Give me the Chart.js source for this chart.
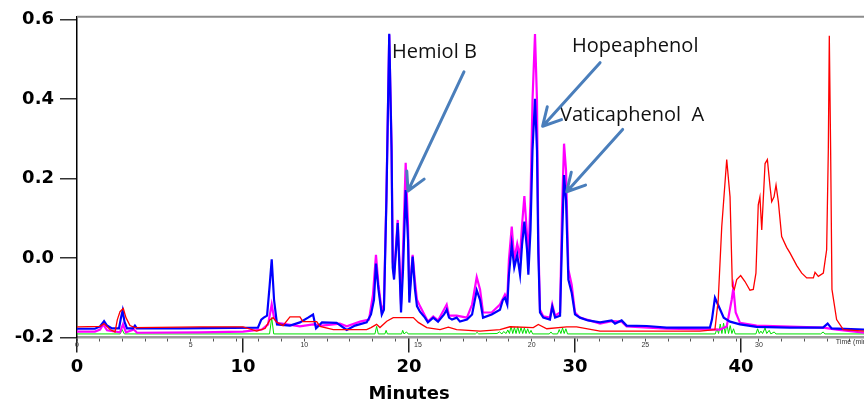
<!DOCTYPE html>
<html>
<head>
<meta charset="utf-8">
<script src="https://cdn.jsdelivr.net/npm/chart.js@4.4.0/dist/chart.umd.min.js"></script>
<style>
  html, body { margin: 0; padding: 0; background: #fff; }
  #wrap { width: 864px; height: 403px; }
</style>
</head>
<body>
<div id="wrap"><canvas id="chromChart"></canvas></div>
<script>
// ================= DATA =================
// retention time (Minutes) and absorbance (AU)
const redTime = [0, 1.39, 1.63, 1.99, 2.29, 2.43, 2.59, 2.79, 2.95, 3.19, 3.49, 7.41, 10, 10.83, 11.33, 11.63, 11.81, 12.05, 12.41, 12.83,
  13.43, 13.61, 14.44, 14.64, 15.44, 17.45, 17.71, 18.05, 18.25, 18.66, 19.05, 20.26, 20.56, 21.07, 21.87, 22.37, 22.87, 24.28, 25.48, 26.08,
  27.49, 27.79, 28.3, 29.5, 30.1, 31.51, 37.53, 38.43, 38.63, 38.84, 39.14, 39.34, 39.48, 39.6, 39.74, 39.98, 40.24, 40.54, 40.74, 40.9,
  41.04, 41.14, 41.25, 41.34, 41.45, 41.59, 41.75, 41.85, 41.99, 42.11, 42.25, 42.45, 42.75, 42.95, 43.36, 43.66, 43.96, 44.36, 44.46, 44.66,
  44.96, 45.16, 45.26, 45.32, 45.4, 45.48, 45.76, 46.16, 47.41];
const redAbs = [-0.173, -0.172, -0.165, -0.180, -0.186, -0.155, -0.135, -0.127, -0.150, -0.170, -0.175, -0.173, -0.173, -0.184, -0.177, -0.155, -0.150, -0.162, -0.170, -0.148,
  -0.148, -0.160, -0.160, -0.172, -0.180, -0.180, -0.175, -0.167, -0.175, -0.159, -0.150, -0.150, -0.162, -0.175, -0.180, -0.174, -0.180, -0.184, -0.180, -0.173,
  -0.175, -0.167, -0.178, -0.173, -0.173, -0.184, -0.184, -0.180, -0.105, 0.079, 0.248, 0.154, -0.071, -0.079, -0.054, -0.044, -0.059, -0.081, -0.079, -0.038,
  0.134, 0.154, 0.071, 0.146, 0.238, 0.248, 0.180, 0.142, 0.154, 0.184, 0.142, 0.054, 0.027, 0.013, -0.019, -0.038, -0.050, -0.050, -0.036, -0.046,
  -0.038, 0.021, 0.271, 0.560, 0.271, -0.079, -0.155, -0.180, -0.184];

const magentaTime = [0, 1.08, 1.39, 1.58, 1.81, 2.59, 2.77, 2.95, 3.43, 3.61, 7.41, 10, 11.14, 11.51, 11.73, 11.87, 12.05, 13.43, 14.22, 14.76,
  15.84, 16.25, 17.05, 17.59, 17.83, 18.01, 18.16, 18.36, 18.49, 18.64, 18.81, 18.95, 19.02, 19.1, 19.32, 19.43, 19.52, 19.64, 19.8, 19.94,
  20.02, 20.22, 20.36, 20.48, 20.66, 20.96, 21.14, 21.46, 21.75, 22.27, 22.41, 22.87, 23.49, 23.8, 24.08, 24.28, 24.46, 24.98, 25.48, 25.78,
  25.92, 26.02, 26.19, 26.34, 26.52, 26.69, 26.81, 26.95, 27.11, 27.19, 27.32, 27.44, 27.59, 27.71, 27.79, 27.89, 28.09, 28.49, 28.63, 28.8,
  29.1, 29.22, 29.34, 29.46, 29.6, 29.8, 30, 30.3, 31.51, 32.21, 32.81, 33.11, 35.52, 38.73, 39.14, 39.44, 39.54, 39.68, 39.94, 40.94,
  44.94, 45.78, 47.41];
const magentaAbs = [-0.185, -0.185, -0.180, -0.167, -0.182, -0.187, -0.167, -0.187, -0.180, -0.188, -0.187, -0.185, -0.180, -0.167, -0.117, -0.150, -0.163, -0.172, -0.167, -0.170,
  -0.165, -0.172, -0.160, -0.155, -0.092, 0.008, -0.067, -0.135, -0.117, 0.159, 0.562, 0.284, -0.009, -0.042, 0.096, -0.017, -0.117, 0.021, 0.240, 0.083,
  -0.092, 0.008, -0.059, -0.105, -0.121, -0.145, -0.160, -0.147, -0.157, -0.117, -0.145, -0.145, -0.150, -0.117, -0.048, -0.079, -0.137, -0.137, -0.117, -0.092,
  -0.105, -0.004, 0.079, -0.004, 0.036, 0.003, 0.083, 0.156, 0.058, 0.000, 0.146, 0.397, 0.564, 0.397, 0.046, -0.130, -0.147, -0.150, -0.117, -0.145,
  -0.137, 0.121, 0.288, 0.221, -0.029, -0.067, -0.137, -0.150, -0.165, -0.159, -0.160, -0.172, -0.178, -0.180, -0.172, -0.105, -0.075, -0.137, -0.163, -0.170,
  -0.175, -0.180, -0.188];

const blueTime = [0, 1.08, 1.39, 1.63, 1.81, 2.11, 2.53, 2.65, 2.75, 2.86, 3.01, 3.37, 3.49, 3.61, 6.2, 10.9, 11.1, 11.25, 11.45, 11.6,
  11.73, 11.87, 12.05, 12.83, 13.43, 13.92, 14.22, 14.4, 14.76, 15.64, 16.25, 16.75, 17.45, 17.71, 17.89, 18.01, 18.16, 18.36, 18.49, 18.64,
  18.81, 18.95, 19.02, 19.1, 19.22, 19.32, 19.43, 19.52, 19.64, 19.8, 19.94, 20.02, 20.12, 20.22, 20.36, 20.48, 20.66, 20.96, 21.14, 21.46,
  21.75, 22.11, 22.27, 22.41, 22.59, 22.87, 23.07, 23.49, 23.8, 24.08, 24.28, 24.46, 24.98, 25.48, 25.66, 25.78, 25.92, 26.02, 26.19, 26.34,
  26.52, 26.69, 26.81, 26.95, 27.11, 27.19, 27.32, 27.44, 27.59, 27.71, 27.79, 27.89, 28.09, 28.49, 28.63, 28.8, 29.1, 29.22, 29.34, 29.46,
  29.6, 29.8, 30, 30.3, 30.78, 31.51, 32.21, 32.41, 32.81, 33.11, 34.32, 35.52, 38.13, 38.25, 38.43, 38.61, 38.75, 38.96, 39.34, 39.94,
  40.94, 42.95, 44.94, 45.22, 45.46, 47.41];
const blueAbs = [-0.178, -0.178, -0.172, -0.159, -0.170, -0.177, -0.177, -0.150, -0.132, -0.160, -0.177, -0.177, -0.170, -0.177, -0.177, -0.175, -0.155, -0.150, -0.145, -0.072,
  -0.003, -0.105, -0.167, -0.170, -0.162, -0.150, -0.142, -0.177, -0.162, -0.163, -0.181, -0.170, -0.162, -0.142, -0.105, -0.014, -0.079, -0.142, -0.130, 0.146,
  0.565, 0.271, -0.024, -0.054, 0.021, 0.088, -0.029, -0.137, -0.029, 0.171, 0.046, -0.112, -0.054, 0.004, -0.079, -0.121, -0.135, -0.150, -0.162, -0.150,
  -0.160, -0.142, -0.130, -0.150, -0.155, -0.150, -0.160, -0.155, -0.142, -0.081, -0.105, -0.150, -0.142, -0.130, -0.105, -0.100, -0.117, -0.042, 0.033, -0.024,
  0.008, -0.042, 0.033, 0.092, 0.021, -0.042, 0.071, 0.271, 0.401, 0.271, 0.013, -0.137, -0.150, -0.155, -0.123, -0.150, -0.145, 0.046, 0.209, 0.146,
  -0.054, -0.087, -0.142, -0.150, -0.157, -0.162, -0.157, -0.165, -0.157, -0.170, -0.171, -0.175, -0.175, -0.155, -0.100, -0.117, -0.130, -0.150, -0.160, -0.167,
  -0.173, -0.175, -0.175, -0.165, -0.177, -0.180];

const greenTime = [0, 2.6, 2.72, 2.85, 11.6, 11.73, 11.85, 17.95, 18.05, 18.15, 18.55, 18.62, 18.7, 19.55, 19.62, 19.7, 19.85, 19.95, 24.0, 24.1,
  24.2, 25.3, 25.45, 25.6, 25.7, 25.85, 25.95, 26.05, 26.15, 26.25, 26.35, 26.45, 26.55, 26.65, 26.75, 26.85, 26.95, 27.05, 27.15, 27.25,
  27.35, 27.45, 28.45, 28.55, 28.65, 28.95, 29.05, 29.15, 29.25, 29.35, 29.45, 29.55, 38.45, 38.55, 38.65, 38.75, 38.85, 38.95, 39.05, 39.15,
  39.25, 39.35, 39.45, 39.55, 39.65, 40.9, 41.0, 41.1, 41.2, 41.3, 41.45, 41.55, 41.7, 41.8, 42.0, 42.1, 44.8, 44.95, 45.05, 47.41];
const greenAbs = [-0.191, -0.191, -0.18, -0.191, -0.191, -0.15, -0.191, -0.191, -0.172, -0.191, -0.191, -0.182, -0.191, -0.191, -0.182, -0.191, -0.186, -0.191, -0.191, -0.187,
  -0.191, -0.19, -0.186, -0.191, -0.185, -0.19, -0.181, -0.19, -0.172, -0.19, -0.175, -0.19, -0.173, -0.19, -0.175, -0.19, -0.176, -0.19, -0.178, -0.19,
  -0.182, -0.191, -0.191, -0.186, -0.191, -0.191, -0.18, -0.19, -0.176, -0.19, -0.178, -0.191, -0.191, -0.178, -0.19, -0.166, -0.19, -0.164, -0.19, -0.165,
  -0.19, -0.17, -0.19, -0.178, -0.191, -0.191, -0.178, -0.19, -0.184, -0.19, -0.176, -0.19, -0.182, -0.191, -0.186, -0.191, -0.191, -0.186, -0.191, -0.191];

// axes
const yTicks = [-0.2, 0, 0.2, 0.4, 0.6];
const xTicks = [0, 10, 20, 30, 40];
const innerTicks = Array.from({ length: 35 }, (_, i) => i);   // instrument time, every minute
const innerLabels = [0, 5, 10, 15, 20, 25, 30];

// peak labels (text anchor, arrow start, arrow tip) in Minutes / AU
const peakNames = ["Hemiol B", "Hopeaphenol", "Vaticaphenol  A"];
const labelAt = [[18.98, 0.517], [29.82, 0.532], [29.1, 0.359]];
const arrowFrom = [[23.31, 0.469], [31.51, 0.492], [32.87, 0.324]];
const arrowTo = [[19.94, 0.169], [28.05, 0.332], [29.5, 0.167]];

const toPoints = (ts, vs) => ts.map((t, i) => ({ x: t, y: vs[i] }));

// ================= EXTRA DRAWING =================
const decorations = {
  id: "decorations",
  afterDraw(chart) {
    const { ctx, chartArea, scales } = chart;
    const { x, x2, y } = scales;
    ctx.save();

    // grey frame line on top
    ctx.strokeStyle = "#8c8c8c";
    ctx.lineWidth = 2;
    ctx.beginPath();
    ctx.moveTo(chartArea.left, chartArea.top);
    ctx.lineTo(chartArea.right, chartArea.top);
    ctx.stroke();

    // axis title
    ctx.fillStyle = "#000";
    ctx.font = "bold 18px 'DejaVu Sans'";
    ctx.textAlign = "center";
    ctx.textBaseline = "middle";
    ctx.fillText("Minutes", x.getPixelForValue(20), 394);

    // instrument time caption
    ctx.font = "7px 'Liberation Sans'";
    ctx.fillStyle = "#333";
    ctx.textAlign = "left";
    ctx.fillText("Time (min)", x2.getPixelForValue(33.38), chartArea.bottom + 5);

    // peak annotations
    ctx.font = "20px 'Open Sans'";
    ctx.fillStyle = "#111";
    peakNames.forEach((name, i) => {
      ctx.fillText(name, x.getPixelForValue(labelAt[i][0]), y.getPixelForValue(labelAt[i][1]));
    });

    ctx.strokeStyle = "#4a7ebb";
    ctx.lineWidth = 3;
    ctx.lineCap = "round";
    arrowFrom.forEach((from, i) => {
      const x0 = x.getPixelForValue(from[0]), y0 = y.getPixelForValue(from[1]);
      const x1 = x.getPixelForValue(arrowTo[i][0]), y1 = y.getPixelForValue(arrowTo[i][1]);
      const ang = Math.atan2(y0 - y1, x0 - x1);
      ctx.beginPath();
      ctx.moveTo(x0, y0);
      ctx.lineTo(x1, y1);
      [-0.5, 0.5].forEach(d => {
        ctx.moveTo(x1, y1);
        ctx.lineTo(x1 + 20 * Math.cos(ang + d), y1 + 20 * Math.sin(ang + d));
      });
      ctx.stroke();
    });
    ctx.restore();
  }
};

// ================= CHART =================
const traceStyle = (color, width, order) => ({
  borderColor: color, backgroundColor: color, borderWidth: width,
  pointRadius: 0, showLine: true, tension: 0, order
});

new Chart(document.getElementById("chromChart"), {
  type: "scatter",
  data: {
    datasets: [
      { label: "red", data: toPoints(redTime, redAbs), ...traceStyle("#ff0000", 1.3, 1) },
      { label: "blue", data: toPoints(blueTime, blueAbs), ...traceStyle("#0000ff", 2.2, 2) },
      { label: "magenta", data: toPoints(magentaTime, magentaAbs), ...traceStyle("#ff00ff", 2.2, 3) },
      { label: "green", data: toPoints(greenTime, greenAbs), ...traceStyle("#00e000", 1, 4) }
    ]
  },
  options: {
    responsive: true,
    maintainAspectRatio: false,
    animation: false,
    layout: { padding: { top: 15.7, right: 0, bottom: 0, left: 0 } },
    plugins: { legend: { display: false }, tooltip: { enabled: false } },
    scales: {
      x: {
        type: "linear", position: "bottom", min: 0, max: 47.41,
        afterBuildTicks: s => { s.ticks = xTicks.map(v => ({ value: v })); },
        afterFit: s => { s.height = 65.5; },
        ticks: { autoSkip: false, maxRotation: 0, padding: 4, color: "#000",
          font: { family: "DejaVu Sans", weight: "bold", size: 18 } },
        grid: { drawOnChartArea: false, drawTicks: true, tickLength: 15, color: "#222", lineWidth: 1.5 },
        border: { display: false }
      },
      x2: {
        type: "linear", position: { y: -0.2 }, min: 0, max: 34.62,
        afterBuildTicks: s => { s.ticks = innerTicks.map(v => ({ value: v })); },
        ticks: { autoSkip: false, maxRotation: 0, padding: 0, color: "#333",
          font: { family: "Liberation Sans", size: 7 },
          callback: v => innerLabels.includes(v) ? String(v) : "" },
        grid: { drawOnChartArea: false, drawTicks: true, tickLength: 3, color: "#555", lineWidth: 1 },
        border: { display: true, color: "#9a9a9a", width: 2.5 }
      },
      y: {
        type: "linear", min: -0.2, max: 0.6075,
        afterBuildTicks: s => { s.ticks = yTicks.map(v => ({ value: v })); },
        afterFit: s => { s.width = 77; },
        ticks: { padding: 6, color: "#000", font: { family: "DejaVu Sans", weight: "bold", size: 18 },
          callback: v => v.toFixed(1) },
        grid: { drawOnChartArea: false, drawTicks: true, tickLength: 17, color: "#333", lineWidth: 1.5 },
        border: { display: true, color: "#000", width: 1.5 }
      }
    }
  },
  plugins: [decorations]
});
</script>
</body>
</html>
